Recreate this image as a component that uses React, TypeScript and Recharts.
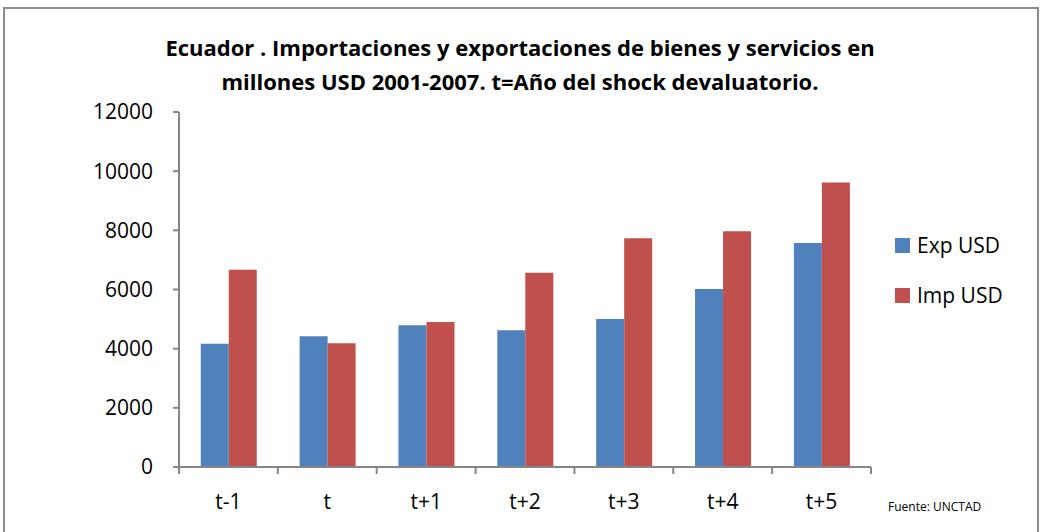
import { BarChart, Bar, XAxis, YAxis } from 'recharts'

const periods = ['t-1', 't', 't+1', 't+2', 't+3', 't+4', 't+5']
const expUsd = [4170, 4420, 4790, 4620, 5000, 6020, 7570]
const impUsd = [6670, 4180, 4900, 6570, 7730, 7970, 9620]
const yTicks = [0, 2000, 4000, 6000, 8000, 10000, 12000]
const seriesNames = ['Exp USD', 'Imp USD']
const seriesColors = ['#4F81BD', '#C0504D']

const data = periods.map((p, i) => ({ period: p, exp: expUsd[i], imp: impUsd[i] }))

const W = 1040
const H = 532
const LEFT = 179
const RIGHT = 871
const FONT = '"Open Sans", "Noto Sans", sans-serif'
const AXIS = '#868686'
const band = (RIGHT - LEFT) / periods.length

// Excel puts the tick marks between categories, not under them
function XTick(props: any) {
  const { x, y, payload, index } = props
  const left = x - band / 2
  return (
    <g>
      <line x1={left} y1={y - 8} x2={left} y2={y - 1} stroke={AXIS} strokeWidth={2} />
      {index === periods.length - 1 && (
        <line x1={x + band / 2} y1={y - 8} x2={x + band / 2} y2={y - 1} stroke={AXIS} strokeWidth={2} />
      )}
      <text x={x} y={y + 34} textAnchor="middle" fill="#000" fontSize={21} fontFamily={FONT}>
        {payload.value}
      </text>
    </g>
  )
}

export default function App() {
  return (
    <div style={{ position: 'absolute', left: 0, top: 0, width: W, height: H, background: '#fff', overflow: 'hidden' }}>
      <div style={{ position: 'absolute', left: 3, top: 7, width: 1032, height: 530, border: '2px solid #8c8c8c' }} />
      <div
        style={{
          position: 'absolute', left: 0, top: 30, width: W, textAlign: 'center',
          fontFamily: FONT, fontWeight: 700, fontSize: 22, lineHeight: '34px', color: '#000',
        }}
      >
        Ecuador . Importaciones y exportaciones de bienes y servicios en
        <br />
        millones USD 2001-2007. t=Año del shock devaluatorio.
      </div>
      <div style={{ position: 'absolute', left: 0, top: 0 }}>
        <BarChart
          width={W}
          height={H}
          data={data}
          margin={{ top: 112, right: W - RIGHT, bottom: 0, left: 0 }}
          barCategoryGap="22%"
          barGap={0}
        >
          <XAxis
            dataKey="period"
            axisLine={{ stroke: AXIS, strokeWidth: 2 }}
            tickLine={false}
            tick={<XTick />}
            interval={0}
            height={65}
          />
          <YAxis
            domain={[0, 12000]}
            ticks={yTicks}
            width={LEFT}
            axisLine={{ stroke: AXIS, strokeWidth: 2 }}
            tickLine={{ stroke: AXIS, strokeWidth: 2 }}
            tickSize={6}
            tickMargin={20}
            tick={{ fill: '#000', fontSize: 21, fontFamily: FONT }}
          />
          <Bar dataKey="exp" name={seriesNames[0]} fill={seriesColors[0]} isAnimationActive={false} />
          <Bar dataKey="imp" name={seriesNames[1]} fill={seriesColors[1]} isAnimationActive={false} />
        </BarChart>
      </div>
      <div style={{ position: 'absolute', left: 895, top: 220, fontFamily: FONT, fontSize: 21 }}>
        {seriesNames.map((name, i) => (
          <div key={name} style={{ display: 'flex', alignItems: 'center', height: 50 }}>
            <span style={{ width: 15, height: 15, background: seriesColors[i], marginRight: 7 }} />
            <span>{name}</span>
          </div>
        ))}
      </div>
      <div style={{ position: 'absolute', left: 888, top: 498, fontFamily: FONT, fontSize: 12, color: '#000' }}>
        Fuente: UNCTAD
      </div>
    </div>
  )
}
